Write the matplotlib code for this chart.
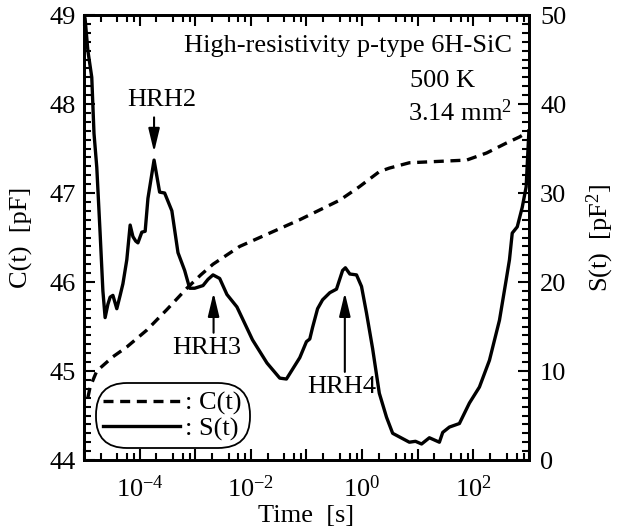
import numpy as np
import matplotlib
matplotlib.use('Agg')
import matplotlib.pyplot as plt
from matplotlib.lines import Line2D
from matplotlib.ticker import FixedLocator, FixedFormatter, NullFormatter, MultipleLocator

plt.rcParams['font.family'] = ['Liberation Serif', 'DejaVu Serif']
plt.rcParams['mathtext.fontset'] = 'custom'
plt.rcParams['mathtext.rm'] = 'Liberation Serif'
plt.rcParams['mathtext.it'] = 'Liberation Serif:italic'
plt.rcParams['font.size'] = 19

# C(t): log10(time), capacitance [pF]
c_logt = [-4.93, -4.89, -4.77, -4.48, -4.23, -3.87, -3.51, -3.15, -2.9, -2.68, -2.2,
          -1.84, -1.12, -0.40, -0.05, 0.31, 0.49, 0.85, 1.88, 2.24, 2.59, 2.83, 2.99]
c_val = [44.70, 44.82, 45.0, 45.16, 45.27, 45.46, 45.69, 45.93, 46.08, 46.2, 46.4,
         46.5, 46.7, 46.92, 47.07, 47.24, 47.28, 47.34, 47.37, 47.45, 47.56, 47.63, 47.69]

# S(t): log10(time), signal [pF^2]
s_logt = [-5.0, -4.98, -4.93, -4.86, -4.82, -4.77, -4.71, -4.66, -4.62, -4.57, -4.53,
          -4.48, -4.41, -4.35, -4.30, -4.23, -4.17, -4.12, -4.07, -4.03, -3.96, -3.90,
          -3.85, -3.74, -3.64, -3.55, -3.42, -3.31, -3.19, -3.10, -3.01, -2.86, -2.77,
          -2.68, -2.56, -2.43, -2.25, -1.97, -1.71, -1.48, -1.36, -1.25, -1.12, -1.0,
          -0.94, -0.89, -0.80, -0.71, -0.58, -0.46, -0.35, -0.30, -0.22, -0.10, -0.01,
          0.08, 0.19, 0.31, 0.44, 0.55, 0.67, 0.85, 0.96, 1.07, 1.21, 1.39, 1.45, 1.57,
          1.75, 1.93, 2.11, 2.29, 2.47, 2.59, 2.65, 2.70, 2.79, 2.88, 2.95, 3.0]
s_val = [50.0, 49.6, 46.0, 43.0, 36.7, 32.9, 25.5, 19.0, 16.0, 17.5, 18.3,
         18.5, 17.0, 18.5, 19.8, 22.5, 26.4, 25.1, 24.6, 24.4, 25.6, 25.7,
         29.4, 33.7, 30.1, 30.0, 28.0, 23.3, 21.3, 19.3, 19.3, 19.6, 20.3,
         20.8, 20.4, 18.6, 17.2, 13.5, 10.9, 9.2, 9.1, 10.2, 11.5, 13.3,
         13.6, 14.9, 17.0, 18.0, 18.8, 19.2, 21.3, 21.6, 20.9, 20.8, 19.5,
         16.5, 12.5, 7.5, 4.8, 3.0, 2.6, 2.0, 2.1, 1.8, 2.5, 2.0, 3.1, 3.7,
         4.1, 6.4, 8.2, 11.2, 15.7, 20.2, 22.5, 25.5, 26.2, 28.4, 30.7, 37.0]

x_major = [1e-5, 1e-4, 1e-3, 1e-2, 1e-1, 1e0, 1e1, 1e2, 1e3]
x_labels = ['', r'$10^{-4}$', '', r'$10^{-2}$', '', r'$10^{0}$', '', r'$10^{2}$', '']

# peak labels: name, text (log t, S), arrow x (log t), arrow tail S, arrow tip S
peak_names = ['HRH2', 'HRH3', 'HRH4']
peak_text_logt = [-3.60, -2.79, -0.37]
peak_text_s = [40.4, 12.6, 8.2]
peak_arrow_logt = [-3.74, -2.67, -0.31]
peak_tail_s = [38.5, 14.3, 9.9]
peak_tip_s = [34.6, 18.8, 18.8]

fig = plt.figure(figsize=(6.23, 5.31), dpi=100)
ax = fig.add_axes([0.1348, 0.1337, 0.7142, 0.8380])
ax2 = ax.twinx()

ax.plot(10 ** np.array(c_logt), c_val, color='black', lw=2.4, dashes=(3, 2))
ax2.plot(10 ** np.array(s_logt), s_val, color='black', lw=2.4)

ax.set_xscale('log')
ax.set_xlim(1e-5, 1e3)
ax.set_ylim(44, 49)
ax2.set_ylim(0, 50)

ax.xaxis.set_major_locator(FixedLocator(x_major))
ax.xaxis.set_major_formatter(FixedFormatter(x_labels))
minors = [m * d for d in x_major[:-1] for m in (2, 4, 6, 8)]
ax.xaxis.set_minor_locator(FixedLocator(minors))
ax.xaxis.set_minor_formatter(NullFormatter())

ax.yaxis.set_major_locator(MultipleLocator(1))
ax.yaxis.set_minor_locator(MultipleLocator(0.1))
ax2.yaxis.set_major_locator(MultipleLocator(10))
ax2.yaxis.set_minor_locator(MultipleLocator(1))

ax.tick_params(axis='x', which='both', direction='in', top=True, bottom=True, pad=11)
ax.tick_params(axis='y', which='both', direction='in', left=True, right=False, pad=6)
ax.tick_params(which='major', length=8, width=1.5)
ax.tick_params(which='minor', length=5, width=1.5)
ax2.tick_params(axis='y', which='both', direction='in', left=False, right=True, pad=8)
ax2.tick_params(which='major', length=8, width=1.5)
ax2.tick_params(which='minor', length=5, width=1.5)
for a in (ax, ax2):
    for sp in a.spines.values():
        sp.set_linewidth(2)

ax.set_xlabel('Time  [s]', labelpad=2)
ax.set_ylabel('C(t)  [pF]', labelpad=12)
ax2.set_ylabel(r'S(t)  [pF$^2$]', labelpad=13)

ax.text(0.962, 0.93, 'High-resistivity p-type 6H-SiC', transform=ax.transAxes,
        ha='right', va='center')
ax.text(0.88, 0.852, '500 K', transform=ax.transAxes, ha='right', va='center')
ax.text(0.962, 0.78, r'3.14 mm$^2$', transform=ax.transAxes, ha='right', va='center')

arrow = dict(arrowstyle='-|>,head_width=0.18,head_length=0.75', color='black',
             lw=1.5, shrinkA=0, shrinkB=0)
for i, name in enumerate(peak_names):
    ax2.text(10 ** peak_text_logt[i], peak_text_s[i], name, ha='center', va='center')
    ax2.annotate('', xy=(10 ** peak_arrow_logt[i], peak_tip_s[i]),
                 xytext=(10 ** peak_arrow_logt[i], peak_tail_s[i]), arrowprops=arrow)

handles = [Line2D([], [], color='black', lw=2.4, dashes=(3, 2)),
           Line2D([], [], color='black', lw=2.4)]
leg = ax2.legend(handles, [': C(t)', ': S(t)'], loc='lower left',
                 bbox_to_anchor=(0.029, 0.029), handlelength=2.9, handletextpad=0.2,
                 borderpad=0.25, borderaxespad=0.0, labelspacing=0.05,
                 frameon=True, fancybox=True)
frame = leg.get_frame()
frame.set_edgecolor('black')
frame.set_linewidth(1.3)
frame.set_alpha(1)
frame.set_boxstyle('round,pad=0.05,rounding_size=1.2')

fig.savefig('out.png', dpi=100)
